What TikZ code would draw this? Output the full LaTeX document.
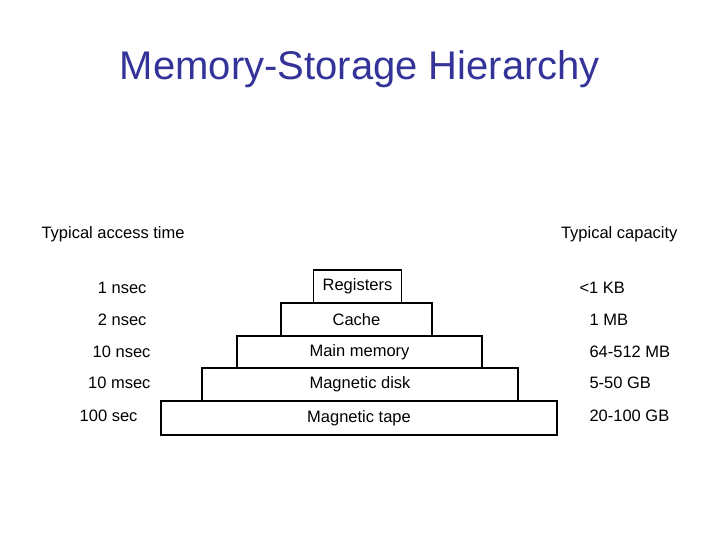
\documentclass[tikz,border=0pt]{standalone}
\usepackage{fontspec}
\setmainfont{Liberation Sans}
\definecolor{titleblue}{RGB}{51,51,153}
\begin{document}
\begin{tikzpicture}[x=1pt,y=-1pt,
  lvl/.style={draw,line width=1.2pt,inner sep=0pt},
  lbl/.style={font=\fontsize{16.5}{18}\selectfont},
  side/.style={font=\fontsize{16.5}{18}\selectfont}]
\path[use as bounding box,fill=white] (0,0) rectangle (720,540);
\node[font=\fontsize{40}{44}\selectfont,text=titleblue] (title) at (360,69) {Memory-Storage Hierarchy};
\node[lvl,minimum width=88,minimum height=33] (reg) at (357.5,286.5) {};
\node[lvl,minimum width=151,minimum height=33] (cache) at (356.5,319.5) {};
\node[lvl,minimum width=245,minimum height=32] (main) at (359.5,352) {};
\node[lvl,minimum width=316,minimum height=33] (disk) at (360,384.5) {};
\node[lvl,minimum width=396,minimum height=34] (tape) at (359,418) {};
\node[lbl] (treg) at (reg.center) {Registers};
\node[lbl] (tcache) at (cache.center) {Cache};
\node[lbl] (tmain) at (main.center) {Main memory};
\node[lbl] (tdisk) at (disk.center) {Magnetic disk};
\node[lbl] (ttape) at (tape.center) {Magnetic tape};
\node[side,anchor=west] (hl) at (38,234) {Typical access time};
\node[side,anchor=east] (hr) at (681,234) {Typical capacity};
\node[side,anchor=east] (a1) at (150,288) {1 nsec};
\node[side,anchor=east] (a2) at (150,320) {2 nsec};
\node[side,anchor=east] (a3) at (154,352) {10 nsec};
\node[side,anchor=east] (a4) at (154,383) {10 msec};
\node[side,anchor=east] (a5) at (141,416) {100 sec};
\node[side,anchor=west] (c1) at (576,288) {<1 KB};
\node[side,anchor=west] (c2) at (586,320) {1 MB};
\node[side,anchor=west] (c3) at (586,352) {64-512 MB};
\node[side,anchor=west] (c4) at (586,383) {5-50 GB};
\node[side,anchor=west] (c5) at (586,416) {20-100 GB};
\end{tikzpicture}
\end{document}
